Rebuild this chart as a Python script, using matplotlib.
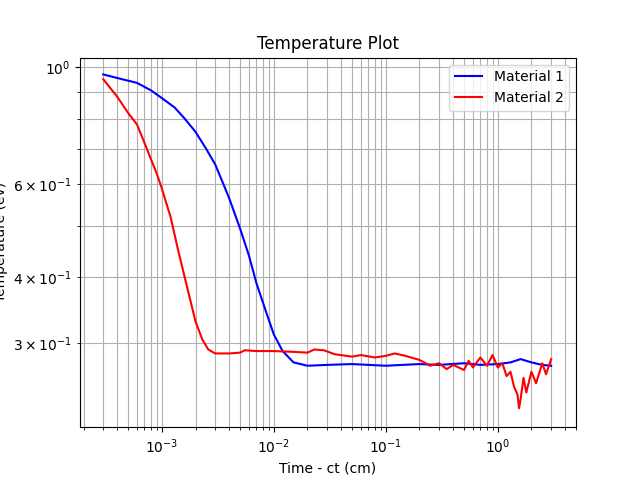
import matplotlib
matplotlib.use("Agg")
import matplotlib.pyplot as plt

t1 = [3e-4, 4e-4, 6e-4, 8e-4, 1e-3, 1.3e-3, 1.6e-3, 2e-3, 2.5e-3, 3e-3, 4e-3, 5e-3, 6e-3, 7e-3, 8.5e-3,
      1e-2, 1.2e-2, 1.5e-2, 2e-2, 3e-2, 5e-2, 0.1, 0.2, 0.3, 0.5, 0.7, 1.0, 1.3, 1.6, 2.0, 2.5, 3.0]
T1 = [0.97, 0.955, 0.935, 0.905, 0.875, 0.84, 0.80, 0.755, 0.70, 0.655, 0.565, 0.495, 0.44, 0.39, 0.345,
      0.312, 0.29, 0.276, 0.272, 0.273, 0.274, 0.272, 0.274, 0.273, 0.275, 0.273, 0.274, 0.276, 0.28, 0.276, 0.273, 0.272]

t2 = [3e-4, 4e-4, 5e-4, 6e-4, 7e-4, 8e-4, 9e-4, 1e-3, 1.2e-3, 1.4e-3, 1.7e-3, 2e-3, 2.3e-3, 2.6e-3, 3e-3,
      4e-3, 5e-3, 5.5e-3, 7e-3, 1e-2, 1.5e-2, 2e-2, 2.3e-2, 2.8e-2, 3.5e-2, 5e-2, 6e-2, 8e-2, 0.1, 0.12,
      0.15, 0.2, 0.25, 0.3, 0.35, 0.4, 0.5, 0.55, 0.6, 0.7, 0.8, 0.9, 1.0, 1.1, 1.2, 1.3, 1.4, 1.5, 1.55,
      1.6, 1.7, 1.8, 2.0, 2.2, 2.5, 2.7, 3.0]
T2 = [0.95, 0.88, 0.82, 0.78, 0.72, 0.67, 0.63, 0.59, 0.52, 0.45, 0.38, 0.33, 0.305, 0.292, 0.287,
      0.287, 0.288, 0.291, 0.29, 0.29, 0.289, 0.288, 0.292, 0.291, 0.286, 0.283, 0.285, 0.282, 0.284, 0.287,
      0.284, 0.279, 0.272, 0.275, 0.268, 0.273, 0.267, 0.278, 0.27, 0.282, 0.272, 0.285, 0.27, 0.275, 0.26,
      0.265, 0.248, 0.24, 0.226, 0.235, 0.258, 0.242, 0.265, 0.252, 0.275, 0.262, 0.28]

fig, ax = plt.subplots(figsize=(6.4, 4.8), dpi=100)
ax.plot(t1, T1, color="blue", label="Material 1")
ax.plot(t2, T2, color="red", label="Material 2")
ax.set_xscale("log")
ax.set_yscale("log")
ax.set_xlim(1.86e-4, 5.0)
ax.set_ylim(0.208, 1.044)
ax.grid(True, which="both", color="#b0b0b0")
ax.set_title("Temperature Plot")
ax.set_xlabel("Time - ct (cm)")
ax.set_ylabel("Temperature (ev)")
ax.legend(loc="upper right")
fig.savefig("out.png")
